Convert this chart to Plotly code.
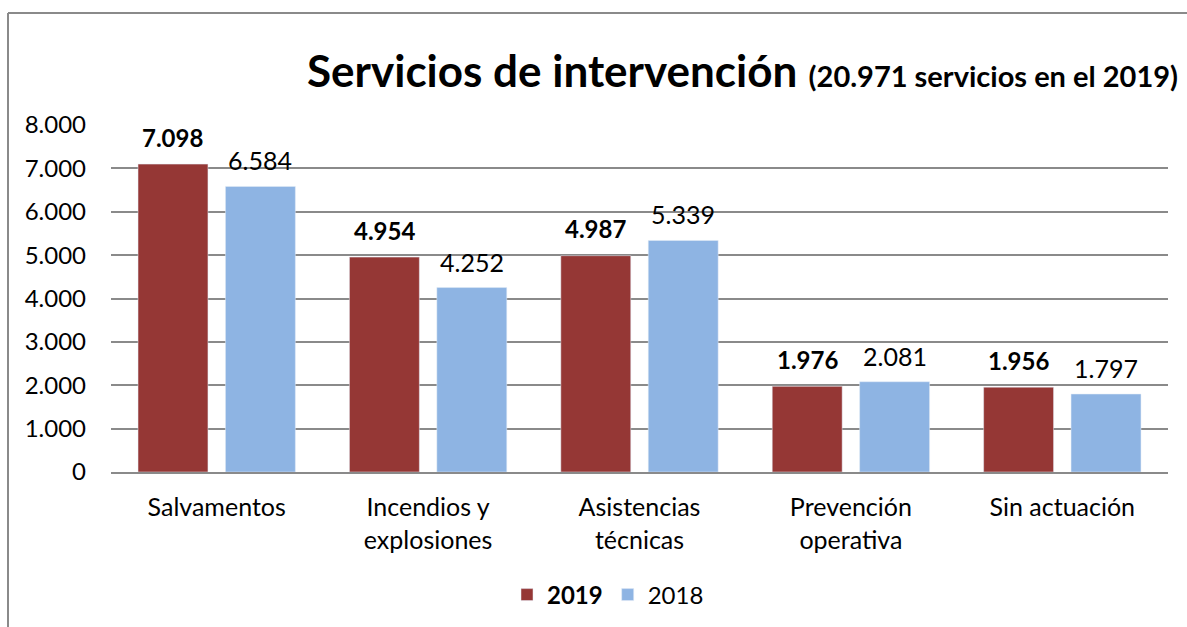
import plotly.graph_objects as go

categories = ["Salvamentos", "Incendios y<br>explosiones", "Asistencias<br>técnicas",
              "Prevención<br>operativa", "Sin actuación"]
values_2019 = [7098, 4954, 4987, 1976, 1956]
values_2018 = [6584, 4252, 5339, 2081, 1797]
tick_vals = [0, 1000, 2000, 3000, 4000, 5000, 6000, 7000, 8000]

W, H = 1187, 627
L, R, T, B = 111, 19, 125, 155
pw, ph = W - L - R, H - T - B

def px_x(x):
    return (x - L) / pw

def px_y(y):
    return (H - B - y) / ph

RED = "#953735"
BLUE = "#8EB4E3"
FONT = "Lato"

fig = go.Figure()
fig.add_trace(go.Bar(x=categories, y=values_2019, name="<b>2019</b>",
                     marker=dict(color=RED)))
fig.add_trace(go.Bar(x=categories, y=values_2018, name="2018",
                     marker=dict(color=BLUE)))

# data labels
slot_shift = pw / len(categories) * (1 - 0.173) / 4
for c, v in zip(categories, values_2019):
    fig.add_annotation(x=c, y=v, text=f"<b>{v:,}</b>".replace(",", "."),
                       showarrow=False, xshift=-slot_shift, yshift=27,
                       font=dict(size=24, color="black", family=FONT))
for c, v in zip(categories, values_2018):
    fig.add_annotation(x=c, y=v, text=f"{v:,}".replace(",", "."),
                       showarrow=False, xshift=slot_shift, yshift=26,
                       font=dict(size=25, color="black", family=FONT))

# outer frame (top and left border)
fig.add_shape(type="line", xref="paper", yref="paper",
              x0=px_x(8), x1=px_x(W + 20), y0=px_y(13), y1=px_y(13),
              line=dict(color="#8a8a8a", width=2))
fig.add_shape(type="line", xref="paper", yref="paper",
              x0=px_x(8), x1=px_x(8), y0=px_y(13), y1=px_y(H + 20),
              line=dict(color="#8a8a8a", width=2))

fig.update_layout(
    width=W, height=H,
    margin=dict(l=L, r=R, t=T, b=B, autoexpand=False),
    paper_bgcolor="white", plot_bgcolor="white",
    separators=",.",
    barmode="group", bargap=0.173, bargroupgap=0.2,
    font=dict(family=FONT, color="black", size=24),
    title=dict(
        text="<b>Servicios de intervención</b> <span style='font-size:29px'><b>(20.971 servicios en el 2019)</b></span>",
        x=307 / W, xanchor="left", xref="container",
        y=1 - 72 / H, yanchor="middle", yref="container",
        font=dict(size=44, family=FONT, color="black")),
    legend=dict(orientation="h", x=px_x(608), xanchor="center",
                y=px_y(595), yanchor="middle",
                font=dict(size=24, family=FONT, color="black"),
                traceorder="normal"),
    xaxis=dict(showgrid=False, showline=True, linecolor="#8a8a8a", linewidth=2,
               ticks="", ticklabelstandoff=12, automargin=False,
               tickfont=dict(size=25, family=FONT, color="black")),
    yaxis=dict(range=[0, 8000], tickvals=tick_vals, tickformat=",d",
               showgrid=True, gridcolor="#8a8a8a", gridwidth=1.5,
               zeroline=False, showline=False, ticks="", automargin=False,
               ticklabelstandoff=24,
               tickfont=dict(size=24, family=FONT, color="black")),
)

fig.write_html("out.html", config={"displayModeBar": False},
               post_script="document.body.style.margin='0';document.body.style.padding='0';")
